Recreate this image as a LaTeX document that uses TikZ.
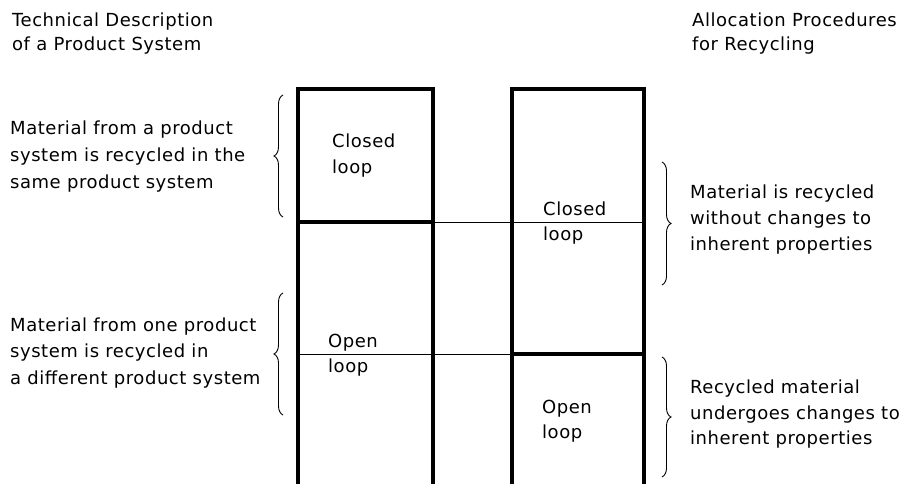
\documentclass[tikz,border=0pt]{standalone}
\usepackage{fontspec}
\setmainfont{DejaVu Sans}[LetterSpace=3]
\usetikzlibrary{decorations.pathreplacing}
\begin{document}
\begin{tikzpicture}[x=1pt,y=-1pt,
  lbl/.style={anchor=base west,inner sep=0pt,font=\fontsize{18}{20}\selectfont},
  thickln/.style={line width=3.2pt,line cap=rect},
  thinln/.style={line width=1pt},
  brc/.style={decorate,decoration={brace,amplitude=9pt},line width=0.9pt}]
\useasboundingbox (0,0) rectangle (905,484);
% coordinates
\coordinate (LTL) at (298,89);
\coordinate (LTR) at (433,89);
\coordinate (LML) at (298,222);
\coordinate (LMR) at (433,222);
\coordinate (LBL) at (298,482);
\coordinate (LBR) at (433,482);
\coordinate (RTL) at (512,89);
\coordinate (RTR) at (644,89);
\coordinate (RML) at (512,354);
\coordinate (RMR) at (644,354);
\coordinate (RBL) at (512,482);
\coordinate (RBR) at (644,482);
\coordinate (LOL) at (298,354);
\coordinate (RCR) at (644,222);
% thin lines
\draw[thinln] (LMR) -- (RCR);
\draw[thinln] (LOL) -- (RML);
% columns
\draw[thickln] (LBL) -- (LTL) -- (LTR) -- (LBR);
\draw[thickln] (LML) -- (LMR);
\draw[thickln] (RBL) -- (RTL) -- (RTR) -- (RBR);
\draw[thickln] (RML) -- (RMR);
% braces
\draw[brc] (283,217) coordinate (b1s) -- (283,95) coordinate (b1e);
\draw[brc] (283,415) coordinate (b2s) -- (283,293) coordinate (b2e);
\draw[brc] (662,162) coordinate (b3s) -- (662,285) coordinate (b3e);
\draw[brc] (662,357) coordinate (b4s) -- (662,477) coordinate (b4e);
% headers
\node[lbl] (h1a) at (12,27) {Technical Description};
\node[lbl] (h1b) at (12,51) {of a Product System};
\node[lbl] (h2a) at (692,27) {Allocation Procedures};
\node[lbl] (h2b) at (692,51) {for Recycling};
% left texts
\node[lbl] (t1a) at (10,135) {Material from a product};
\node[lbl] (t1b) at (10,161) {system is recycled in the};
\node[lbl] (t1c) at (10,188) {same product system};
\node[lbl] (t2a) at (10,331) {Material from one product};
\node[lbl] (t2b) at (10,357) {system is recycled in};
\node[lbl] (t2c) at (10,384) {a different product system};
% right texts
\node[lbl] (t3a) at (690,198) {Material is recycled};
\node[lbl] (t3b) at (690,224) {without changes to};
\node[lbl] (t3c) at (690,250) {inherent properties};
\node[lbl] (t4a) at (690,393) {Recycled material};
\node[lbl] (t4b) at (690,419) {undergoes changes to};
\node[lbl] (t4c) at (690,444) {inherent properties};
% box labels
\node[lbl] (c1a) at (332,148) {Closed};
\node[lbl] (c1b) at (332,173) {loop};
\node[lbl] (o1a) at (328,347) {Open};
\node[lbl] (o1b) at (328,372) {loop};
\node[lbl] (c2a) at (543,215) {Closed};
\node[lbl] (c2b) at (543,240) {loop};
\node[lbl] (o2a) at (542,413) {Open};
\node[lbl] (o2b) at (542,438) {loop};
\end{tikzpicture}
\end{document}
